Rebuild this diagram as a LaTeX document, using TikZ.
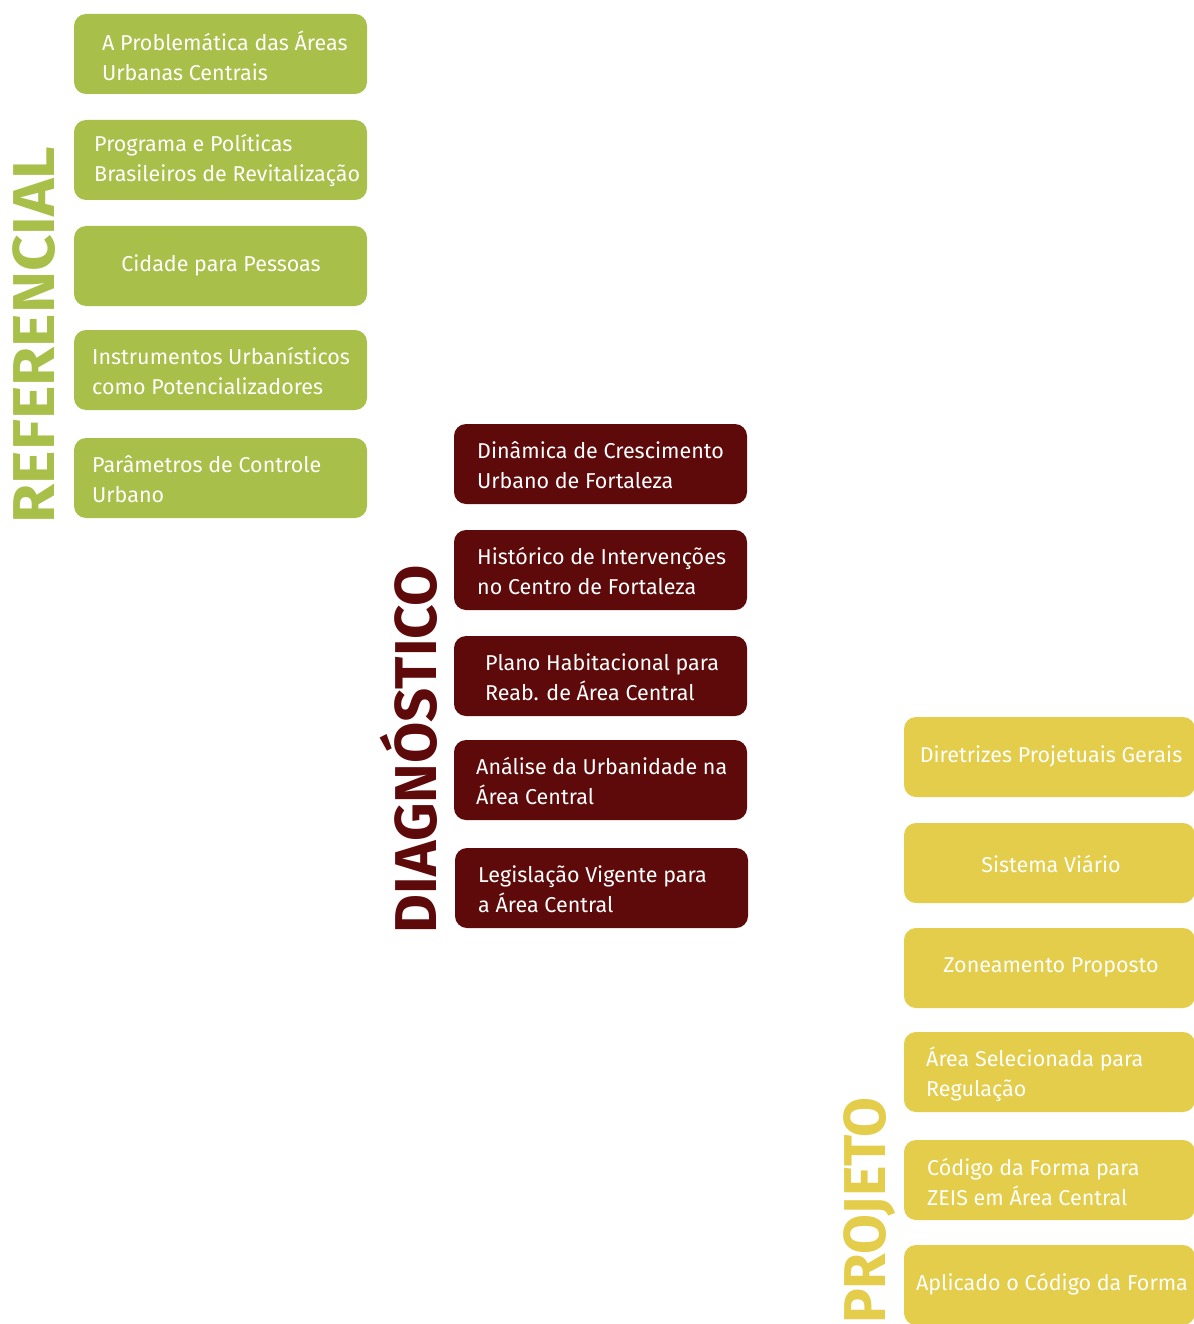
\documentclass[tikz,border=0pt]{standalone}
\usepackage{fontspec}
\setmainfont{Fira Sans}
\newfontfamily\titlefont{Fira Sans}
\definecolor{cgreen}{HTML}{A8BF4A}
\definecolor{cred}{HTML}{5E0A0A}
\definecolor{cyellow}{HTML}{E3CD4A}
\begin{document}
\begin{tikzpicture}[x=1pt,y=-1pt,
  box/.style={rounded corners=12pt, minimum width=293pt, minimum height=80pt, inner sep=0pt},
  gbox/.style={box, fill=cgreen},
  rbox/.style={box, fill=cred},
  ybox/.style={box, fill=cyellow, minimum width=291pt},
  txt/.style={text=white, align=left, inner sep=0pt, font=\fontsize{21.5}{30}\selectfont},
  ctxt/.style={txt, align=center},
  title/.style={rotate=90, inner sep=0pt, font=\titlefont\bfseries\fontsize{59}{59}\selectfont}
]
\useasboundingbox (0,0) rectangle (1193,1324);
\fill[white] (0,0) rectangle (1193,1324);

% REFERENCIAL
\node[title, text=cgreen] (tref) at (34,335) {\scalebox{1.076}[1]{REFERENCIAL}};
\node[gbox] (g1) at (220.5,54) {};
\node[gbox] (g2) at (220.5,160) {};
\node[gbox] (g3) at (220.5,266) {};
\node[gbox] (g4) at (220.5,370) {};
\node[gbox] (g5) at (220.5,478) {};
\node[txt, anchor=west] (g1t) at (102,56) {A Problemática das Áreas\\Urbanas Centrais};
\node[txt, anchor=west] (g2t) at (94,160) {Programa e Políticas\\Brasileiros de Revitalização};
\node[ctxt] (g3t) at (221,265) {Cidade para Pessoas};
\node[txt, anchor=west] (g4t) at (92,371) {Instrumentos Urbanísticos\\como Potencializadores};
\node[txt, anchor=west] (g5t) at (92,479) {Parâmetros de Controle\\Urbano};

% DIAGNOSTICO
\node[title, text=cred] (tdia) at (408.5,749) {\scalebox{1.014}[1]{DIAGNÓSTICO}};
\node[rbox] (d1) at (600.5,464) {};
\node[rbox] (d2) at (600.5,570) {};
\node[rbox] (d3) at (600.5,676) {};
\node[rbox] (d4) at (600.5,780) {};
\node[rbox] (d5) at (601.5,888) {};
\node[txt, anchor=west] (d1t) at (477,465) {Dinâmica de Crescimento\\Urbano de Fortaleza};
\node[txt, anchor=west] (d2t) at (477,571) {Histórico de Intervenções\\no Centro de Fortaleza};
\node[txt, anchor=west] (d3t) at (485,677) {Plano Habitacional para\\Reab. de Área Central};
\node[txt, anchor=west] (d4t) at (476,781) {Análise da Urbanidade na\\Área Central};
\node[txt, anchor=west] (d5t) at (478,889) {Legislação Vigente para\\a Área Central};

% PROJETO
\node[title, text=cyellow, anchor=east] (tpro) at (870,1097) {\scalebox{0.98}[1]{PROJETO}};
\node[ybox] (y1) at (1049.5,757) {};
\node[ybox] (y2) at (1049.5,863) {};
\node[ybox] (y3) at (1049.5,968) {};
\node[ybox] (y4) at (1049.5,1072) {};
\node[ybox] (y5) at (1049.5,1180) {};
\node[ybox] (y6) at (1049.5,1285) {};
\node[ctxt] (y1t) at (1051,756) {Diretrizes Projetuais Gerais};
\node[ctxt] (y2t) at (1051,864) {Sistema Viário};
\node[ctxt] (y3t) at (1051,967) {Zoneamento Proposto};
\node[txt, anchor=west] (y4t) at (926,1074) {Área Selecionada para\\Regulação};
\node[txt, anchor=west] (y5t) at (927,1182) {Código da Forma para\\ZEIS em Área Central};
\node[ctxt] (y6t) at (1052,1284) {Aplicado o Código da Forma};
\end{tikzpicture}
\end{document}
